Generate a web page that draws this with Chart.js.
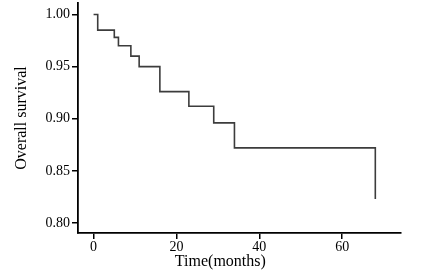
<!DOCTYPE html>
<html>
<head>
<meta charset="utf-8">
<script src="https://cdn.jsdelivr.net/npm/chart.js@4/dist/chart.umd.min.js"></script>
<style>
  html, body { margin: 0; padding: 0; background: #fff; }
  #wrap { width: 422px; height: 270px; position: relative; }
</style>
</head>
<body>
<div id="wrap"><canvas id="km"></canvas></div>
<script>
// Kaplan-Meier curve, values
const times = [0, 1, 5, 6, 9, 11, 16, 23, 29, 34, 68];
const survival = [1.000, 0.985, 0.978, 0.970, 0.960, 0.950, 0.926, 0.912, 0.896, 0.872, 0.823];
const xTicks = [0, 20, 40, 60];
const yTicks = [0.80, 0.85, 0.90, 0.95, 1.00];
const xTitle = 'Time(months)';
const yTitle = 'Overall survival';

const serif = 'Liberation Serif';

// x title sits left of the plot centre in the reference, so draw it by hand
const xTitlePlugin = {
  id: 'xTitle',
  afterDraw(chart) {
    const ctx = chart.ctx;
    const x = chart.scales.x.getPixelForValue(30.6);
    ctx.save();
    ctx.font = `16px "${serif}"`;
    ctx.fillStyle = '#000';
    ctx.textAlign = 'center';
    ctx.textBaseline = 'alphabetic';
    ctx.fillText(xTitle, x, 266);
    ctx.restore();
  }
};

new Chart(document.getElementById('km'), {
  type: 'line',
  data: {
    datasets: [{
      data: times.map((t, i) => ({ x: t, y: survival[i] })),
      stepped: 'before',
      borderColor: '#3c3c3c',
      borderWidth: 1.6,
      pointRadius: 0,
      fill: false
    }]
  },
  options: {
    responsive: true,
    maintainAspectRatio: false,
    animation: false,
    layout: { autoPadding: false, padding: { left: 0, right: 21, top: 3, bottom: 0 } },
    plugins: { legend: { display: false }, tooltip: { enabled: false } },
    scales: {
      x: {
        type: 'linear',
        min: -3.76,
        max: 74.2,
        afterBuildTicks: s => { s.ticks = xTicks.map(v => ({ value: v })); },
        afterFit: s => { s.height = 37; s.paddingLeft = 0; s.paddingRight = 0; },
        grid: { drawOnChartArea: false, drawTicks: true, tickLength: 6, color: '#000', lineWidth: 1.5 },
        border: { display: true, color: '#000', width: 1.8 },
        ticks: { color: '#000', padding: 0, maxRotation: 0, font: { family: serif, size: 14 } }
      },
      y: {
        type: 'linear',
        min: 0.7904,
        max: 1.011,
        afterBuildTicks: s => { s.ticks = yTicks.map(v => ({ value: v })); },
        afterFit: s => { s.width = 78; s.paddingTop = 0; s.paddingBottom = 0; },
        grid: { drawOnChartArea: false, drawTicks: true, tickLength: 6, color: '#000', lineWidth: 1.5 },
        border: { display: true, color: '#000', width: 1.8 },
        ticks: { color: '#000', padding: 2, font: { family: serif, size: 14 }, callback: v => v.toFixed(2) },
        title: { display: true, text: yTitle, color: '#000', padding: { top: 12, bottom: 0 }, font: { family: serif, size: 16 } }
      }
    }
  },
  plugins: [xTitlePlugin]
});
</script>
</body>
</html>
